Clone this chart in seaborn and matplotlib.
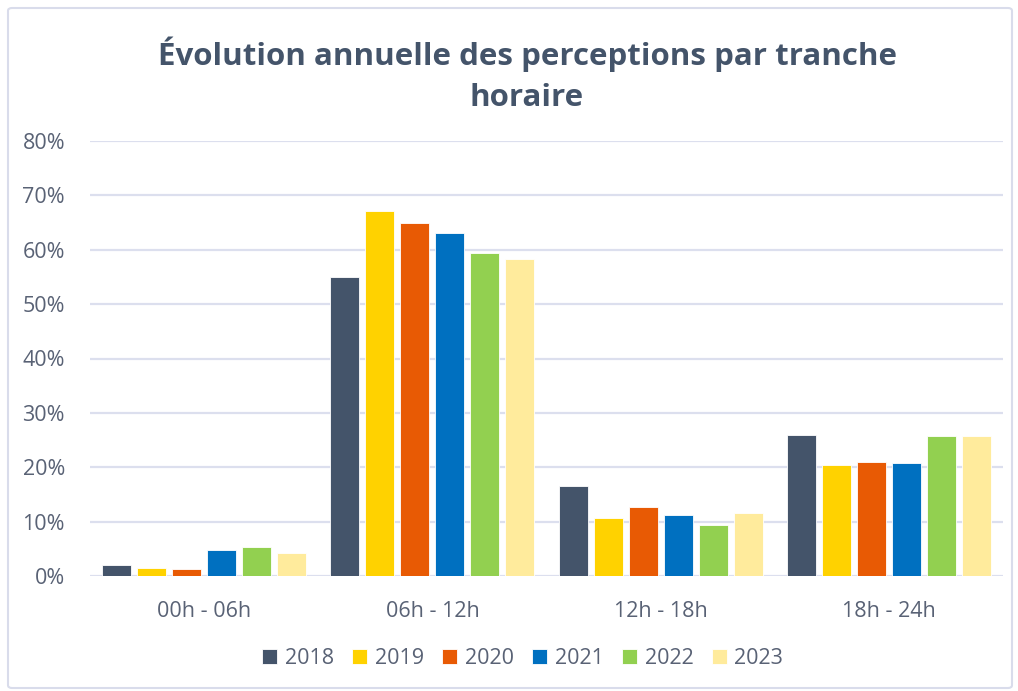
import numpy as np
import pandas as pd
import seaborn as sns
from matplotlib import pyplot as plt
from matplotlib.patches import FancyBboxPatch

# time slots and years
tranches = ['00h - 06h', '06h - 12h', '12h - 18h', '18h - 24h']
annees = ['2018', '2019', '2020', '2021', '2022', '2023']

# share of perceptions per time slot
val_2018 = [0.021, 0.550, 0.166, 0.260]
val_2019 = [0.014, 0.672, 0.107, 0.205]
val_2020 = [0.012, 0.649, 0.127, 0.209]
val_2021 = [0.047, 0.631, 0.112, 0.207]
val_2022 = [0.053, 0.594, 0.094, 0.258]
val_2023 = [0.042, 0.583, 0.116, 0.258]

couleurs = ['#44546A', '#FFD200', '#E85A04', '#0070C0', '#92D050', '#FFEB9C']

#%% long dataframe for seaborn
series = [val_2018, val_2019, val_2020, val_2021, val_2022, val_2023]
rows = []
for annee, vals in zip(annees, series):
    for tranche, v in zip(tranches, vals):
        rows.append({'tranche': tranche, 'annee': annee, 'part': v})
df = pd.DataFrame(rows)

#%% plot
sns.set_style('white')
plt.rcParams['font.family'] = ['Open Sans', 'DejaVu Sans']
texte = '#596275'
grille = '#DCDFEE'

fig = plt.figure(figsize=(10.18, 6.91), dpi=100)
ax = fig.add_axes([90 / 1018, 115 / 691, 913 / 1018, 435 / 691])

sns.barplot(data=df, x='tranche', y='part', hue='annee', palette=couleurs,
            order=tranches, hue_order=annees, width=0.92, gap=0.17,
            saturation=1, edgecolor='white', linewidth=0.6, ax=ax, zorder=3)

ax.set_ylim(0, 0.8)
ax.set_yticks(np.arange(0, 0.81, 0.1))
ax.set_yticklabels([f'{int(round(t * 100))}%' for t in np.arange(0, 0.81, 0.1)])
ax.yaxis.grid(True, color=grille, linewidth=1.6, zorder=0)
ax.set_axisbelow(True)
for s in ax.spines.values():
    s.set_visible(False)
ax.tick_params(axis='both', length=0, labelsize=15.5, labelcolor=texte)
ax.tick_params(axis='y', pad=18)
ax.tick_params(axis='x', pad=18)
ax.set_xlabel('')
ax.set_ylabel('')

fig.text(527 / 1018, 1 - 75 / 691,
         'Évolution annuelle des perceptions par tranche\nhoraire',
         ha='center', va='center', fontsize=22.5, fontweight='bold',
         color='#44546A', linespacing=1.5)

handles, labels = ax.get_legend_handles_labels()
ax.legend(handles, labels, loc='center', bbox_to_anchor=(0.474, -0.19),
          ncol=6, frameon=False, fontsize=15.5, labelcolor=texte,
          handlelength=0.7, handleheight=0.7, handletextpad=0.35,
          columnspacing=0.85)

# light frame round the chart
cadre = FancyBboxPatch((8 / 1018, 3 / 691), 1004 / 1018, 680 / 691,
                       boxstyle='round,pad=0,rounding_size=0.004',
                       transform=fig.transFigure, fill=False,
                       edgecolor='#D9DCEB', linewidth=1.5)
fig.patches.append(cadre)

plt.savefig('out.png', dpi=100)
